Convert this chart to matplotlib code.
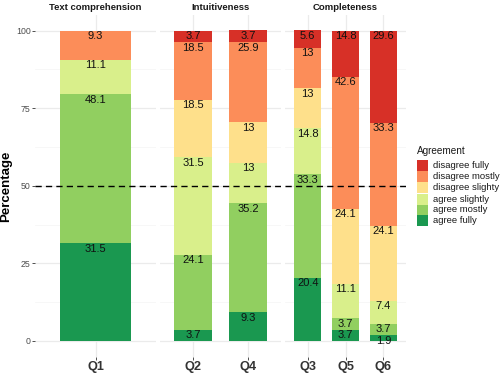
import matplotlib
matplotlib.use("Agg")
import matplotlib.pyplot as plt
from matplotlib.patches import Rectangle

plt.rcParams['font.family'] = ['Liberation Sans', 'DejaVu Sans']

facets = ["Text comprehension", "Intuitiveness", "Completeness"]
facet_questions = [["Q1"], ["Q2", "Q4"], ["Q3", "Q5", "Q6"]]
levels = ["agree fully", "agree mostly", "agree slightly",
          "disagree slighty", "disagree mostly", "disagree fully"]
colors = ["#1a9850", "#91cf60", "#d9ef8b", "#fee08b", "#fc8d59", "#d73027"]
# values per question, bottom (agree fully) -> top (disagree fully)
agree_fully = {"Q1": 31.5, "Q2": 3.7, "Q4": 9.3, "Q3": 20.4, "Q5": 3.7, "Q6": 1.9}
agree_mostly = {"Q1": 48.1, "Q2": 24.1, "Q4": 35.2, "Q3": 33.3, "Q5": 3.7, "Q6": 3.7}
agree_slightly = {"Q1": 11.1, "Q2": 31.5, "Q4": 13.0, "Q3": 14.8, "Q5": 11.1, "Q6": 7.4}
disagree_slighty = {"Q1": 0.0, "Q2": 18.5, "Q4": 13.0, "Q3": 13.0, "Q5": 24.1, "Q6": 24.1}
disagree_mostly = {"Q1": 9.3, "Q2": 18.5, "Q4": 25.9, "Q3": 13.0, "Q5": 42.6, "Q6": 33.3}
disagree_fully = {"Q1": 0.0, "Q2": 3.7, "Q4": 3.7, "Q3": 5.6, "Q5": 14.8, "Q6": 29.6}
series = [agree_fully, agree_mostly, agree_slightly,
          disagree_slighty, disagree_mostly, disagree_fully]
y_ticks = [0, 25, 50, 75, 100]

W, H = 500, 374
fig = plt.figure(figsize=(W / 100, H / 100), dpi=100)

panel_x = [35, 160, 285]
panel_w = 121
top_px, bot_px = 15.2, 356.5

def fx(px):
    return px / W

def fy(py):
    return 1 - py / H

grid_major = "#EBEBEB"
grid_minor = "#F4F4F4"
txt_grey = "#4D4D4D"

for i, (fac, qs) in enumerate(zip(facets, facet_questions)):
    ax = fig.add_axes([fx(panel_x[i]), fy(bot_px), panel_w / W, (bot_px - top_px) / H])
    n = len(qs)
    ax.set_xlim(0.4, n + 0.6)
    ax.set_ylim(-5, 105)
    for s in ax.spines.values():
        s.set_visible(False)
    # gridlines
    for yv in [12.5, 37.5, 62.5, 87.5]:
        ax.axhline(yv, color=grid_minor, lw=0.5, zorder=0)
    for yv in y_ticks:
        ax.axhline(yv, color=grid_major, lw=0.9, zorder=0)
    xs = list(range(1, n + 1))
    for xv in xs:
        ax.axvline(xv, color=grid_major, lw=0.9, zorder=0)
    for j, q in enumerate(qs):
        bottom = 0.0
        for k, ser in enumerate(series):
            v = ser[q]
            if v > 0:
                ax.bar(xs[j], v, width=0.7, bottom=bottom, color=colors[k],
                       edgecolor="none", zorder=2)
                ax.text(xs[j], bottom + v - 0.2, f"{v:g}", ha="center", va="top",
                        fontsize=8, color="#111111", zorder=3)
            bottom += v
    ax.axhline(50, color="black", lw=1.0, ls=(0, (4.5, 3)), zorder=4)
    ax.set_xticks(xs)
    ax.set_xticklabels(qs, fontsize=9.2, fontweight="bold", color="#333333")
    ax.tick_params(axis="x", length=2, color="#333333", width=0.6, pad=1.5)
    if i == 0:
        ax.set_yticks(y_ticks)
        ax.set_yticklabels([str(t) for t in y_ticks], fontsize=6.3, color=txt_grey)
        ax.tick_params(axis="y", length=2, color="#333333", width=0.6, pad=1)
        ax.set_ylabel("Percentage", fontsize=9.5, fontweight="bold", labelpad=3)
    else:
        ax.set_yticks([])
    ax.set_facecolor("none")
    fig.text(fx(panel_x[i] + panel_w / 2), fy(8), fac, ha="center", va="center",
             fontsize=6.8, fontweight="bold", color="#1A1A1A")

# legend
fig.text(fx(416.5), fy(151), "Agreement", ha="left", va="center", fontsize=7.2,
         color="#1A1A1A")
item_y = [165.7, 176.5, 187.5, 199.0, 210.0, 220.7]
legend_order = list(range(5, -1, -1))
for yy, k in zip(item_y, legend_order):
    fig.patches.append(Rectangle((fx(416.7), fy(yy + 5.5)), 11.6 / W, 11.0 / H,
                                 transform=fig.transFigure, color=colors[k],
                                 ec="none"))
    fig.text(fx(432.7), fy(yy), levels[k], ha="left", va="center", fontsize=6.8,
             color="#1A1A1A")

fig.savefig("out.png", dpi=100, facecolor="white")
